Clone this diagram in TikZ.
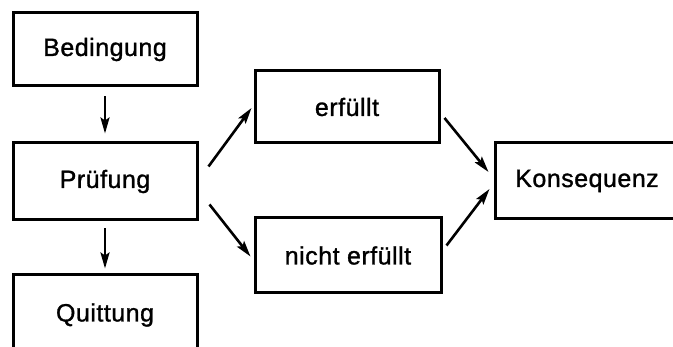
\documentclass[tikz,border=0pt]{standalone}
\usepackage{fontspec}
\setmainfont{Liberation Sans}[FakeBold=1.2,LetterSpace=2]
\usepackage{tikz}
\usetikzlibrary{arrows.meta}

\tikzset{
  kasten/.style={draw,line width=3pt,minimum width=184pt,inner sep=0pt,
    font=\fontsize{25}{28}\selectfont},
  pfeil/.style={line width=2.6pt,-{Stealth[length=16pt,width=9pt,inset=3pt]}}
}

\begin{document}
\begin{tikzpicture}[x=1pt,y=1pt]

\useasboundingbox (0,0) rectangle (673,347);
\clip (0,0) rectangle (673,347);

\node[kasten,minimum height=73pt] (bed) at (105,297.5) {Bedingung};
\node[kasten,minimum height=77pt] (pruef) at (105,165.5) {Prüfung};
\node[kasten,minimum height=80pt] (quit) at (105,32) {Quittung};
\node[kasten,minimum height=72pt] (erf) at (347,240) {erfüllt};
\node[kasten,minimum width=186pt,minimum height=75pt] (nerf) at (348,91.5) {nicht erfüllt};
\node[kasten,minimum height=76pt] (kons) at (587,166) {Konsequenz};

\draw[pfeil,shorten <=9pt,shorten >=8pt] (bed.south) -- (pruef.north);
\draw[pfeil,shorten <=7pt,shorten >=5pt] (pruef.south) -- (quit.north);

\draw[pfeil] ([shift={(10,15)}]pruef.east) -- ([shift={(-2,-1)}]erf.west);
\draw[pfeil] ([shift={(11,-23)}]pruef.east) -- ([shift={(-3,-1)}]nerf.west);
\draw[pfeil] ([shift={(4,-11)}]erf.east) -- ([shift={(-5,9)}]kons.west);
\draw[pfeil] ([shift={(4,10)}]nerf.east) -- ([shift={(-4,-8)}]kons.west);

\end{tikzpicture}
\end{document}
